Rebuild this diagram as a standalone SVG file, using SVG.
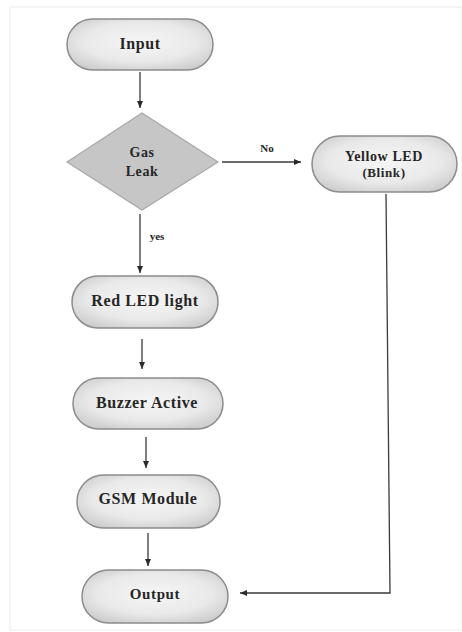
<svg xmlns="http://www.w3.org/2000/svg" width="462" height="632" viewBox="0 0 462 632">
<style>
.node{fill:url(#g);stroke:#8c8c8c;stroke-width:1.5}
.lbl{font-family:"Liberation Serif",serif;font-weight:bold;font-size:16px;fill:#262626;text-anchor:middle;letter-spacing:0.6px}
.sm{font-family:"Liberation Serif",serif;font-weight:bold;font-size:11px;fill:#262626;text-anchor:middle}
.c{stroke:#3a3a3a;stroke-width:1.3;fill:none}
</style>
<defs>
<radialGradient id="g" cx="50%" cy="45%" r="65%">
<stop offset="0" stop-color="#f6f6f6"/>
<stop offset="0.6" stop-color="#e9e9e9"/>
<stop offset="1" stop-color="#c9c9c9"/>
</radialGradient>
<marker id="ah" markerWidth="8" markerHeight="8" refX="7" refY="4" orient="auto" markerUnits="userSpaceOnUse">
<path d="M0,1 L7,4 L0,7 Z" fill="#2a2a2a"/>
</marker>
</defs>
<rect x="0" y="0" width="462" height="632" fill="#ffffff"/>
<rect x="10" y="7" width="452" height="623" fill="none" stroke="#ebebeb" stroke-width="1"/>
<g id="connectors">
<line class="c" x1="140" y1="72" x2="140" y2="108" marker-end="url(#ah)"/>
<line class="c" x1="222" y1="162" x2="301" y2="162" marker-end="url(#ah)"/>
<text class="sm" x="267" y="152">No</text>
<line class="c" x1="140" y1="214" x2="140" y2="273" marker-end="url(#ah)"/>
<text class="sm" x="157" y="240">yes</text>
<line class="c" x1="142" y1="339" x2="142" y2="369" marker-end="url(#ah)"/>
<line class="c" x1="146" y1="437" x2="146" y2="468" marker-end="url(#ah)"/>
<line class="c" x1="148" y1="533" x2="148" y2="566" marker-end="url(#ah)"/>
<polyline class="c" points="386,194 390,593 240,593" marker-end="url(#ah)"/>
</g>
<g id="input">
<rect class="node" x="67" y="19" width="146" height="51" rx="25.5"/>
<text class="lbl" x="140" y="49">Input</text>
</g>
<g id="gasleak">
<polygon points="142,113 218,162 142,210 67,162" fill="#c6c6c6" stroke="#a8a8a8" stroke-width="1.2"/>
<text class="lbl" x="142" y="157" style="font-size:14px">Gas</text>
<text class="lbl" x="142" y="176" style="font-size:14px">Leak</text>
</g>
<g id="yellow">
<rect class="node" x="312" y="136" width="145" height="56" rx="28"/>
<text class="lbl" x="384" y="161" style="font-size:14px">Yellow LED</text>
<text class="lbl" x="384" y="177" style="font-size:13px">(Blink)</text>
</g>
<g id="red">
<rect class="node" x="72" y="276" width="146" height="52" rx="26"/>
<text class="lbl" x="145" y="306">Red LED light</text>
</g>
<g id="buzzer">
<rect class="node" x="73" y="378" width="150" height="51" rx="25.5"/>
<text class="lbl" x="147" y="408">Buzzer Active</text>
</g>
<g id="gsm">
<rect class="node" x="77" y="475" width="143" height="53" rx="26.5"/>
<text class="lbl" x="148" y="504">GSM Module</text>
</g>
<g id="output">
<rect class="node" x="82" y="570" width="146" height="53" rx="26.5"/>
<text class="lbl" x="155" y="599" style="font-size:15px">Output</text>
</g>
</svg>
